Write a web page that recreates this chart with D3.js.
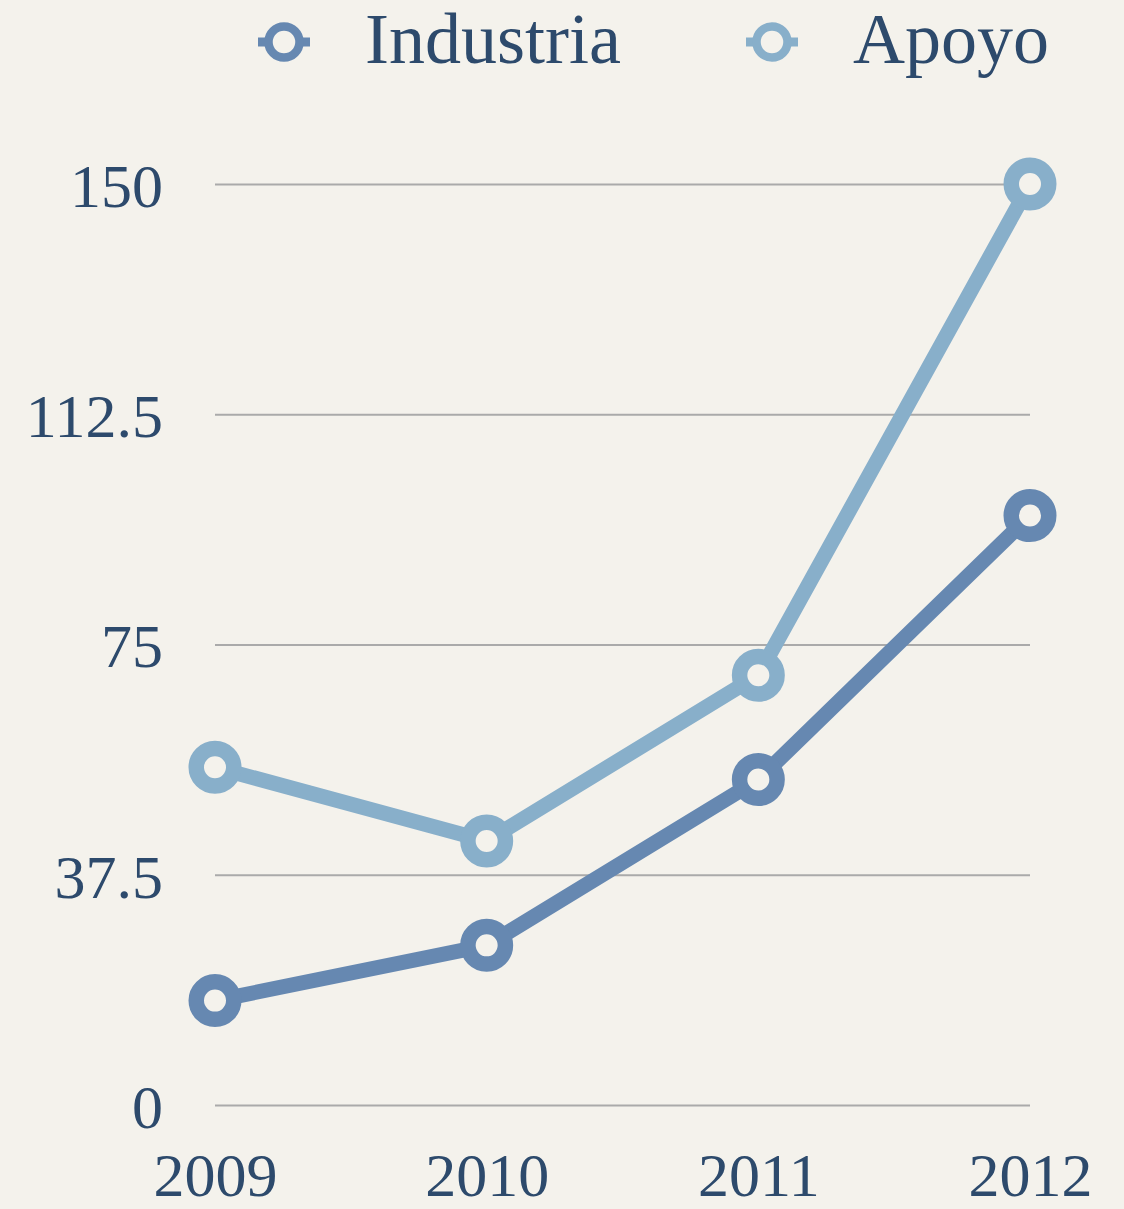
<!DOCTYPE html>
<html>
<head>
<meta charset="utf-8">
<script src="https://cdn.jsdelivr.net/npm/d3@7"></script>
<style>
  html, body { margin: 0; padding: 0; background: #f4f2ec; }
  svg { display: block; }
</style>
</head>
<body>
<div id="chart"></div>
<script>
const years = ['2009', '2010', '2011', '2012'];
const seriesNames = ['Industria', 'Apoyo'];
const industria = [17, 26, 53, 96];
const apoyo = [55, 43, 70, 150];
const yTicks = [0, 37.5, 75, 112.5, 150];

const width = 1124;
const height = 1209;
const bg = '#f4f2ec';
const colors = ['#6688b1', '#88afca'];
const textColor = '#2d4a6c';
const font = "Palatino, 'Palatino Linotype', 'Book Antiqua', 'Liberation Serif', 'DejaVu Serif', serif";

const svg = d3.select('#chart')
    .append('svg')
    .attr('width', width)
    .attr('height', height);

svg.append('rect')
    .attr('width', width)
    .attr('height', height)
    .attr('fill', bg);

// Scales
const xScale = d3.scalePoint()
    .domain(years)
    .range([215, 1030]);

const yScale = d3.scaleLinear()
    .domain([0, 150])
    .range([1105, 184]);

// Gridlines + y labels
const yAxis = d3.axisLeft(yScale)
    .tickValues(yTicks)
    .tickSize(-(1030 - 215))
    .tickPadding(52)
    .tickFormat(d => d);

const gy = svg.append('g')
    .attr('transform', 'translate(215,0)')
    .call(yAxis);
gy.select('.domain').remove();
gy.selectAll('.tick line')
    .attr('stroke', '#aaaaaa')
    .attr('stroke-width', 2);
gy.selectAll('.tick text')
    .attr('fill', textColor)
    .attr('font-family', font)
    .attr('font-size', 62)
    .attr('dy', '0.36em');

// x labels (kept just inside the bottom edge)
const xAxis = d3.axisBottom(xScale).tickSize(0).tickPadding(0);
const gx = svg.append('g')
    .attr('transform', 'translate(0,1196)')
    .call(xAxis);
gx.select('.domain').remove();
gx.selectAll('.tick text')
    .attr('fill', textColor)
    .attr('font-family', font)
    .attr('font-size', 62)
    .attr('dy', 0);

// Lines and markers
const data = [industria, apoyo];
const line = d3.line()
    .x((d, i) => xScale(years[i]))
    .y(d => yScale(d));

// draw Apoyo first so Industria sits on top
[1, 0].forEach(s => {
    svg.append('path')
        .datum(data[s])
        .attr('d', line)
        .attr('fill', 'none')
        .attr('stroke', colors[s])
        .attr('stroke-width', 15)
        .attr('stroke-linejoin', 'round');

    svg.selectAll(null)
        .data(data[s])
        .enter()
        .append('circle')
        .attr('cx', (d, i) => xScale(years[i]))
        .attr('cy', d => yScale(d))
        .attr('r', 18.75)
        .attr('fill', bg)
        .attr('stroke', colors[s])
        .attr('stroke-width', 15.5);
});

// Legend
const legendX = [284, 772];
seriesNames.forEach((name, i) => {
    const g = svg.append('g')
        .attr('transform', `translate(${legendX[i]},42)`);
    g.append('line')
        .attr('x1', -26).attr('x2', 26)
        .attr('stroke', colors[i])
        .attr('stroke-width', 9);
    g.append('circle')
        .attr('r', 15.5)
        .attr('fill', bg)
        .attr('stroke', colors[i])
        .attr('stroke-width', 8.5);
    g.append('text')
        .attr('x', 81)
        .attr('y', 21)
        .attr('fill', textColor)
        .attr('font-family', font)
        .attr('font-size', 72)
        .text(name);
});
</script>
</body>
</html>
